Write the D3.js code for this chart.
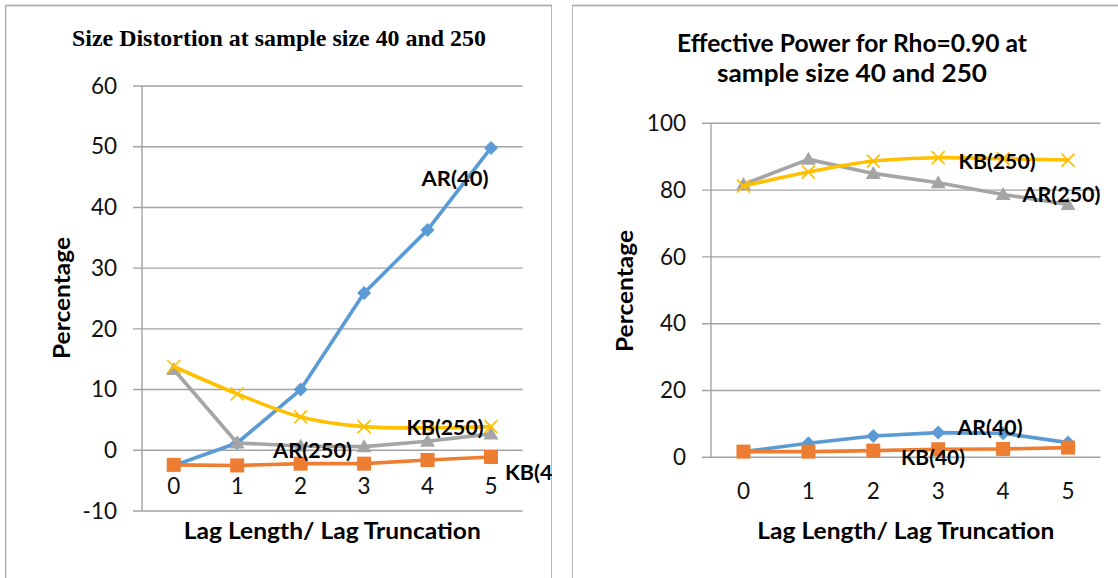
<!DOCTYPE html>
<html>
<head>
<meta charset="utf-8">
<script src="https://cdn.jsdelivr.net/npm/d3@7"></script>
<style>
  html, body { margin: 0; padding: 0; background: #fff; }
  svg { display: block; }
</style>
</head>
<body>
<svg id="chart" width="1118" height="578"></svg>
<script>
// ---------- DATA ----------
const categories = ["0", "1", "2", "3", "4", "5"];

// Left chart: Size Distortion (%)
const sdAR40  = [-2.5, 1.2, 10.0, 25.9, 36.3, 49.8];
const sdKB40  = [-2.4, -2.5, -2.2, -2.2, -1.6, -1.1];
const sdAR250 = [13.3, 1.2, 0.7, 0.6, 1.5, 2.7];
const sdKB250 = [13.8, 9.3, 5.5, 3.9, 3.7, 3.9];
const sdTicks = [-10, 0, 10, 20, 30, 40, 50, 60];

// Right chart: Effective Power (%)
const epAR40  = [1.7, 4.2, 6.4, 7.4, 7.2, 4.4];
const epKB40  = [1.7, 1.7, 2.0, 2.4, 2.5, 2.9];
const epAR250 = [81.7, 89.2, 85.0, 82.2, 78.7, 75.7];
const epKB250 = [81.2, 85.4, 88.7, 89.7, 89.4, 89.0];
const epTicks = [0, 20, 40, 60, 80, 100];

const seriesNames = ["AR(40)", "KB(40)", "AR(250)", "KB(250)"];

// ---------- STYLE ----------
const COLORS = {"AR(40)": "#5B9BD5", "KB(40)": "#ED7D31", "AR(250)": "#A5A5A5", "KB(250)": "#FFC000"};
const GRID = "#a3a3a3";
const BORDER = "#a8a8a8";
const SANS = "Lato, 'Open Sans', 'Liberation Sans', sans-serif";
const SERIF = "'Liberation Serif', 'Times New Roman', serif";

const svg = d3.select("#chart");

svg.append("defs").append("clipPath").attr("id", "clipL")
  .append("rect").attr("x", 5).attr("y", 0).attr("width", 547).attr("height", 578);
svg.select("defs").append("clipPath").attr("id", "clipR")
  .append("rect").attr("x", 572).attr("y", 0).attr("width", 546).attr("height", 578);

function txt(g, o) {
  const t = g.append("text")
    .attr("x", o.x).attr("y", o.y)
    .attr("font-family", o.family || SANS)
    .attr("font-size", o.size)
    .attr("font-weight", o.weight || "normal")
    .attr("text-anchor", o.anchor || "start")
    .attr("fill", o.fill || "#000")
    .text(o.t);
  if (o.len) t.attr("textLength", o.len).attr("lengthAdjust", "spacingAndGlyphs");
  if (o.rotate) t.attr("transform", `rotate(${o.rotate},${o.x},${o.y})`);
  if (o.baseline) t.attr("dominant-baseline", o.baseline);
  return t;
}

function drawPanel(cfg) {
  const g = svg.append("g").attr("clip-path", `url(#${cfg.clip})`);

  // panel border (open at bottom / right edge of the image)
  g.append("rect")
    .attr("x", cfg.box[0]).attr("y", cfg.box[1])
    .attr("width", cfg.box[2]).attr("height", cfg.box[3])
    .attr("fill", "none").attr("stroke", BORDER).attr("stroke-width", 1.6);

  const x = d3.scaleBand().domain(categories).range([cfg.x0, cfg.x1]);
  const y = d3.scaleLinear().domain(cfg.yDomain).range([cfg.yBottom, cfg.yTop]);
  const cx = c => x(c) + x.bandwidth() / 2;

  // gridlines + tick marks
  g.append("g").selectAll("line").data(cfg.ticks).join("line")
    .attr("x1", cfg.x0 - 9).attr("x2", cfg.x1)
    .attr("y1", d => y(d)).attr("y2", d => y(d))
    .attr("stroke", GRID).attr("stroke-width", 1.4);

  // y axis line
  g.append("line")
    .attr("x1", cfg.x0).attr("x2", cfg.x0)
    .attr("y1", y(cfg.yDomain[0])).attr("y2", y(cfg.yDomain[1]))
    .attr("stroke", GRID).attr("stroke-width", 1.4);

  // y tick labels via axis (plain hyphen minus, as in the reference)
  const ya = g.append("g").attr("transform", `translate(${cfg.x0},0)`)
    .call(d3.axisLeft(y).tickValues(cfg.ticks).tickSize(0).tickPadding(25).tickFormat(d => String(d)));
  ya.select(".domain").remove();
  ya.selectAll("text").attr("font-family", SANS).attr("font-size", 22.5).attr("fill", "#111");

  // x tick labels via axis
  const xa = g.append("g").attr("transform", `translate(0,${cfg.xLabelY})`)
    .call(d3.axisBottom(x).tickSize(0).tickPadding(0));
  xa.select(".domain").remove();
  xa.selectAll("text").attr("font-family", SANS).attr("font-size", 22.5).attr("fill", "#111")
    .attr("dy", "0.35em").attr("y", 0);

  // series
  const lineLinear = d3.line().x((d, i) => cx(categories[i])).y(d => y(d));
  const lineSmooth = d3.line().x((d, i) => cx(categories[i])).y(d => y(d)).curve(d3.curveCatmullRom.alpha(0.5));

  cfg.series.forEach(s => {
    const col = COLORS[s.name];
    g.append("path").datum(s.values)
      .attr("d", s.smooth ? lineSmooth : lineLinear)
      .attr("fill", "none").attr("stroke", col).attr("stroke-width", 3.6)
      .attr("stroke-linejoin", "round").attr("stroke-linecap", "round");
    const mg = g.append("g");
    s.values.forEach((v, i) => {
      const px = cx(categories[i]), py = y(v);
      if (s.marker === "diamond") {
        mg.append("path").attr("d", `M${px},${py - 7}L${px + 7},${py}L${px},${py + 7}L${px - 7},${py}Z`).attr("fill", col);
      } else if (s.marker === "square") {
        mg.append("rect").attr("x", px - 7).attr("y", py - 7).attr("width", 14).attr("height", 14).attr("fill", col);
      } else if (s.marker === "triangle") {
        mg.append("path").attr("d", `M${px},${py - 7.5}L${px + 7.5},${py + 5.5}L${px - 7.5},${py + 5.5}Z`).attr("fill", col);
      } else if (s.marker === "x") {
        mg.append("path").attr("d", `M${px - 6.5},${py - 6.5}L${px + 6.5},${py + 6.5}M${px - 6.5},${py + 6.5}L${px + 6.5},${py - 6.5}`)
          .attr("stroke", col).attr("stroke-width", 1.7).attr("fill", "none");
      }
    });
  });

  // series labels
  cfg.labels.forEach(l => {
    txt(g, {x: l.x, y: l.y, t: l.t, size: 21, weight: "bold", len: l.len});
  });

  // titles
  cfg.title.forEach(tl => txt(g, tl));

  // axis titles
  txt(g, {x: (cfg.x0 + cfg.x1) / 2, y: cfg.xTitleY, t: "Lag Length/ Lag Truncation", size: 23.5, weight: "bold", anchor: "middle", len: 297});
  txt(g, {x: cfg.yTitle[0], y: cfg.yTitle[1], t: "Percentage", size: 23.5, weight: "bold", anchor: "middle", rotate: -90, baseline: "central", len: 122});
}

drawPanel({
  clip: "clipL",
  box: [5.5, 5.5, 546.5, 600],
  x0: 142, x1: 522.7,
  yDomain: [-10, 60], yBottom: 511, yTop: 86,
  ticks: sdTicks,
  xLabelY: 486,
  xTitleY: 539,
  yTitle: [60.5, 298],
  series: [
    {name: "AR(40)", values: sdAR40, marker: "diamond"},
    {name: "KB(40)", values: sdKB40, marker: "square"},
    {name: "AR(250)", values: sdAR250, marker: "triangle"},
    {name: "KB(250)", values: sdKB250, marker: "x", smooth: true}
  ],
  labels: [
    {t: "AR(40)", x: 421.5, y: 186, len: 67},
    {t: "KB(250)", x: 406.5, y: 434.5, len: 77},
    {t: "AR(250)", x: 273, y: 458, len: 79},
    {t: "KB(40)", x: 505, y: 480, len: 66}
  ],
  title: [
    {x: 279, y: 45.5, t: "Size Distortion at sample size 40 and 250", size: 23.5, weight: "bold", anchor: "middle", family: SERIF, len: 414}
  ]
});

drawPanel({
  clip: "clipR",
  box: [572, 5.5, 560, 600],
  x0: 711, x1: 1100.5,
  yDomain: [0, 100], yBottom: 457.3, yTop: 123.3,
  ticks: epTicks,
  xLabelY: 491,
  xTitleY: 539,
  yTitle: [624, 291],
  series: [
    {name: "AR(40)", values: epAR40, marker: "diamond"},
    {name: "KB(40)", values: epKB40, marker: "square"},
    {name: "AR(250)", values: epAR250, marker: "triangle"},
    {name: "KB(250)", values: epKB250, marker: "x", smooth: true}
  ],
  labels: [
    {t: "KB(250)", x: 958.5, y: 168.5, len: 77},
    {t: "AR(250)", x: 1022.5, y: 201.5, len: 78},
    {t: "AR(40)", x: 957.5, y: 434.5, len: 65},
    {t: "KB(40)", x: 901, y: 464.5, len: 64}
  ],
  title: [
    {x: 852, y: 52, t: "Effective Power for Rho=0.90 at", size: 24, weight: "bold", anchor: "middle", len: 350},
    {x: 852, y: 82, t: "sample size 40 and 250", size: 24, weight: "bold", anchor: "middle", len: 270}
  ]
});
</script>
</body>
</html>
